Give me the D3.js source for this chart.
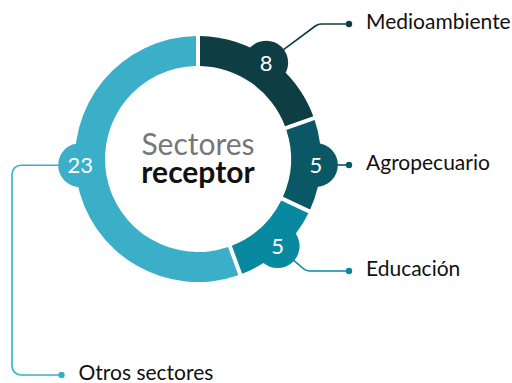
<!DOCTYPE html>
<html>
<head>
<meta charset="utf-8">
<script src="https://cdn.jsdelivr.net/npm/d3@7"></script>
<style>
  html, body { margin: 0; padding: 0; background: #fff; }
  svg { display: block; font-family: Lato, "Open Sans", sans-serif; }
</style>
</head>
<body>
<svg id="chart" width="512" height="383"></svg>
<script>
// Sectors receiving projects and their counts
const sectors = ["Medioambiente", "Agropecuario", "Educación", "Otros sectores"];
const counts = [8, 5, 5, 23];
const colors = ["#0e3d44", "#0a5765", "#0889a0", "#3bafc8"];
const centerTitle = ["Sectores", "receptor"];

const cx = 198, cy = 159;
const rIn = 93, rOut = 123;
const bubbleR = 22, bubbleDist = 118;

const svg = d3.select("#chart");
const g = svg.append("g").attr("transform", `translate(${cx},${cy})`);

const pie = d3.pie().sort(null).value(d => d).padAngle(0.026);
const arcs = pie(counts);
const arc = d3.arc().innerRadius(rIn).outerRadius(rOut);

g.selectAll("path.seg")
  .data(arcs)
  .join("path")
  .attr("class", "seg")
  .attr("d", arc)
  .attr("fill", (d, i) => colors[i]);

// Bubble angle: middle of the slice; the large slice puts its badge on the left side
const deg = Math.PI / 180;
const bubbleAngle = (d, i) => i === 3 ? 267 * deg : (d.startAngle + d.endAngle) / 2;
const bubblePos = arcs.map((d, i) => {
  const a = bubbleAngle(d, i);
  return [cx + bubbleDist * Math.sin(a), cy - bubbleDist * Math.cos(a)];
});

// Leader routes: bubble -> elbow(s) -> dot; label sits right of dot
const dotXRight = 349;
const routes = [
  { pts: p => [[318, 24], [dotXRight, 24]], r: 10 },
  { pts: p => [[dotXRight, p[1]]], r: 0 },
  { pts: p => [[306, 271], [dotXRight, 271]], r: 10 },
  { pts: p => [[12, p[1]], [12, 375], [61.5, 375]], r: 9 }
];

function roundedPolyline(points, r) {
  const path = d3.path();
  path.moveTo(points[0][0], points[0][1]);
  for (let k = 1; k < points.length - 1; k++) {
    if (r > 0) path.arcTo(points[k][0], points[k][1], points[k + 1][0], points[k + 1][1], r);
    else path.lineTo(points[k][0], points[k][1]);
  }
  const last = points[points.length - 1];
  path.lineTo(last[0], last[1]);
  return path.toString();
}

const leaders = svg.append("g");
routes.forEach((rt, i) => {
  const p = bubblePos[i];
  const rest = rt.pts(p);
  const first = rest[0];
  const dx = first[0] - p[0], dy = first[1] - p[1];
  const len = Math.hypot(dx, dy);
  const start = [p[0] + dx / len * (bubbleR - 2), p[1] + dy / len * (bubbleR - 2)];
  const pts = [start, ...rest];
  leaders.append("path")
    .attr("d", roundedPolyline(pts, rt.r))
    .attr("fill", "none")
    .attr("stroke", colors[i])
    .attr("stroke-width", 1.6);
  const end = rest[rest.length - 1];
  leaders.append("circle")
    .attr("cx", end[0]).attr("cy", end[1]).attr("r", 3.2)
    .attr("fill", colors[i]);
  leaders.append("text")
    .attr("x", end[0] + 17)
    .attr("y", end[1] + 5)
    .attr("font-size", 21)
    .attr("fill", "#111")
    .text(sectors[i]);
});

// Value badges
const badges = svg.append("g");
badges.selectAll("circle")
  .data(arcs)
  .join("circle")
  .attr("cx", (d, i) => bubblePos[i][0])
  .attr("cy", (d, i) => bubblePos[i][1])
  .attr("r", bubbleR)
  .attr("fill", (d, i) => colors[i]);
badges.selectAll("text")
  .data(arcs)
  .join("text")
  .attr("x", (d, i) => bubblePos[i][0])
  .attr("y", (d, i) => bubblePos[i][1])
  .attr("dy", "0.36em")
  .attr("text-anchor", "middle")
  .attr("font-size", 22)
  .attr("fill", "#fff")
  .text(d => d.data);

// Center title
g.append("text")
  .attr("x", 0).attr("y", -4.5)
  .attr("text-anchor", "middle")
  .attr("font-size", 30)
  .attr("fill", "#777")
  .text(centerTitle[0]);
g.append("text")
  .attr("x", 0).attr("y", 23.5)
  .attr("text-anchor", "middle")
  .attr("font-size", 30)
  .attr("font-weight", 700)
  .attr("fill", "#111")
  .text(centerTitle[1]);
</script>
</body>
</html>
